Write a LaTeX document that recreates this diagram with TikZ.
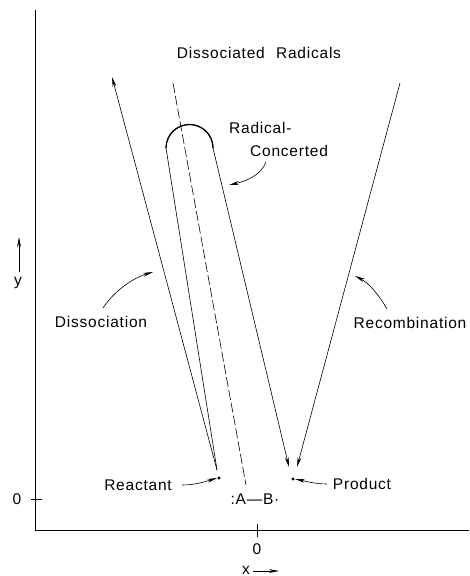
\documentclass[tikz,border=0pt]{standalone}
\usepackage{fontspec}
\setmainfont[LetterSpace=5]{Liberation Sans}
\usetikzlibrary{arrows.meta}
\begin{document}
\begin{tikzpicture}[x=1pt,y=-1pt,
  thin line/.style={line width=0.6pt},
  tip/.style={-{Stealth[length=10pt,width=3.8pt]}},
  lbl/.style={inner sep=0pt,font=\fontsize{15.5}{18}\selectfont},
  dotnode/.style={circle,fill,inner sep=0pt,minimum size=3.2pt}]
\useasboundingbox (0,0) rectangle (469,576);
% axes
\coordinate (ytop) at (35,10);
\coordinate (org) at (35,530);
\coordinate (xend) at (469,530);
\draw[line width=0.8pt] (ytop) -- (org) -- (xend);
\coordinate (xt1) at (257,524); \coordinate (xt2) at (257,537);
\draw[thin line] (xt1) -- (xt2);
\coordinate (yt1) at (31,499); \coordinate (yt2) at (42,499);
\draw[thin line] (yt1) -- (yt2);
\node[lbl] (x0) at (257,549) {0};
\node[lbl] (y0) at (17,499) {0};
\node[lbl,anchor=east] (xl) at (250,570) {x};
\coordinate (xa1) at (253,571); \coordinate (xa2) at (279,571);
\draw[thin line,tip] (xa1) -- (xa2);
\node[lbl] (yl) at (18,283) {y};
\coordinate (ya1) at (19,272); \coordinate (ya2) at (19,237);
\draw[thin line,tip] (ya1) -- (ya2);
% points
\node[dotnode] (r) at (219,478) {};
\node[dotnode] (p) at (293,479) {};
\coordinate (rtop) at (217,470);
% dashed axis of the molecule
\coordinate (d1) at (173,83); \coordinate (d2) at (246,485);
\draw[thin line,dash pattern=on 10pt off 3pt] (d1) -- (d2);
% dissociation path
\coordinate (da) at (112,77);
\draw[thin line,tip] (rtop) -- (da);
% radical-concerted loop
\coordinate (l1) at (166,148);
\coordinate (pe) at (289,467);
\draw[thin line,tip] (rtop) -- (l1) arc[start angle=180,end angle=360,radius=23.5] -- (pe);
\draw[line width=1.3pt,line cap=round] (l1) arc[start angle=180,end angle=360,radius=23.5];
% recombination path
\coordinate (rc) at (400,83);
\coordinate (re) at (297,467);
\draw[thin line,tip] (rc) -- (re);
% labels
\node[lbl] (dr) at (259,53) {Dissociated\hspace{0.4em} Radicals};
\node[lbl,anchor=west] (rad) at (229,128) {Radical-};
\node[lbl,anchor=west] (con) at (250,151) {Concerted};
\coordinate (ca) at (266,162); \coordinate (cb) at (229,185);
\draw[thin line,tip] (ca) .. controls (261,175) and (247,181) .. (cb);
\node[lbl] (dis) at (101,322) {Dissociation};
\coordinate (dsa) at (103,308); \coordinate (dsb) at (153,272);
\draw[thin line,tip] (dsa) .. controls (114,291) and (133,278) .. (dsb);
\node[lbl] (rec) at (410,323) {Recombination};
\coordinate (rca) at (387,309); \coordinate (rcb) at (355,276);
\draw[thin line,tip] (rca) .. controls (379,295) and (369,283) .. (rcb);
\node[lbl] (rea) at (138,485) {Reactant};
\coordinate (raa) at (182,485);
\draw[thin line,tip] (raa) .. controls (194,485) and (204,482) .. (r.west);
\node[lbl] (pro) at (362,484) {Product};
\coordinate (paa) at (327,484);
\draw[thin line,tip] (paa) .. controls (315,484) and (305,481) .. (p.east);
\node[lbl] (ab) at (255,499) {:A—B·};
\end{tikzpicture}
\end{document}
